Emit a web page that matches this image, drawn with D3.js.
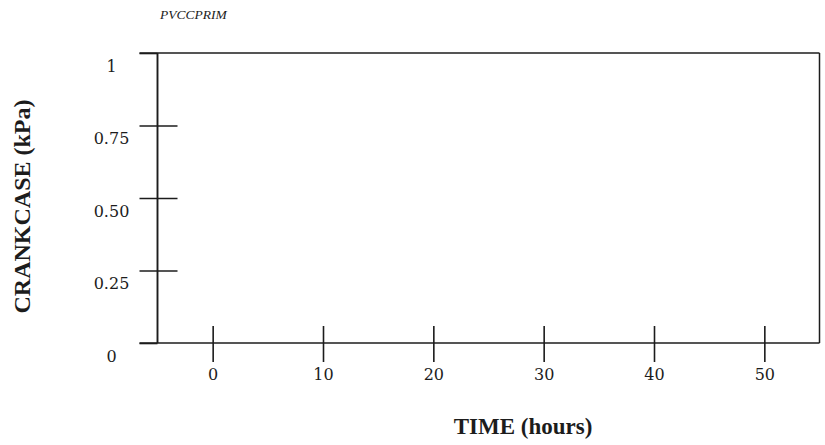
<!DOCTYPE html>
<html>
<head>
<meta charset="utf-8">
<script src="https://cdn.jsdelivr.net/npm/d3@7"></script>
<style>
  html, body { margin: 0; padding: 0; background: #fff; }
  svg { display: block; }
</style>
</head>
<body>
<svg id="chart" width="825" height="445"></svg>
<script>
// ---- data ----
const chartTitle = "PVCCPRIM";
const xTitle = "TIME (hours)";
const yTitle = "CRANKCASE (kPa)";
const xDomain = [-5, 55];
const yDomain = [0, 1];
const xTicks = [0, 10, 20, 30, 40, 50];
const xTickLabels = ["0", "10", "20", "30", "40", "50"];
const yTicks = [0, 0.25, 0.5, 0.75, 1];
const yTickLabels = ["0", "0.25", "0.50", "0.75", "1"];

// ---- layout ----
const svg = d3.select("#chart");
const plotLeft = 157.5, plotRight = 819.5, plotTop = 53, plotBottom = 343;
const ink = "#1c1c1c";

const x = d3.scaleLinear().domain(xDomain).range([plotLeft, plotRight]);
const y = d3.scaleLinear().domain(yDomain).range([plotBottom, plotTop]);

// frame
const frame = svg.append("g").attr("stroke", ink).attr("fill", "none");
frame.append("line").attr("x1", plotLeft - 18).attr("x2", plotRight).attr("y1", y(1)).attr("y2", y(1)).attr("stroke-width", 1.6);
frame.append("line").attr("x1", plotLeft - 18).attr("x2", plotRight).attr("y1", y(0)).attr("y2", y(0)).attr("stroke-width", 1.5);
frame.append("line").attr("x1", plotRight).attr("x2", plotRight).attr("y1", y(1)).attr("y2", y(0)).attr("stroke-width", 1.5);

// y axis
const yAxis = svg.append("g")
  .attr("transform", `translate(${plotLeft},0)`)
  .call(d3.axisLeft(y).tickValues(yTicks).tickSize(18).tickFormat((d, i) => yTickLabels[i]));
yAxis.select(".domain").attr("stroke", ink).attr("stroke-width", 1.9).attr("d", `M0,${y(1)}V${y(0)}`);
yAxis.selectAll(".tick line").attr("stroke", ink).attr("stroke-width", 1.6).attr("x1", -18).attr("x2", 20);
yAxis.selectAll(".tick").filter(d => d === 1 || d === 0).select("line").attr("x2", 0);
yAxis.selectAll(".tick text")
  .attr("x", -46).attr("dy", null).attr("y", 18)
  .attr("text-anchor", "middle")
  .attr("fill", ink)
  .style("font-family", "'DejaVu Serif', serif")
  .style("font-size", "16px");

// x axis
const xAxis = svg.append("g")
  .attr("transform", `translate(0,${plotBottom})`)
  .call(d3.axisBottom(x).tickValues(xTicks).tickSize(19).tickFormat((d, i) => xTickLabels[i]));
xAxis.select(".domain").remove();
xAxis.selectAll(".tick line").attr("stroke", ink).attr("stroke-width", 1.6).attr("y1", -17).attr("y2", 19);
xAxis.selectAll(".tick text")
  .attr("y", 37).attr("dy", null)
  .attr("text-anchor", "middle")
  .attr("fill", ink)
  .style("font-family", "'DejaVu Serif', serif")
  .style("font-size", "16px");

// titles
svg.append("text")
  .attr("x", 160).attr("y", 18.5)
  .attr("fill", ink)
  .style("font-family", "'Liberation Serif', serif")
  .style("font-style", "italic")
  .style("font-size", "13.5px")
  .text(chartTitle);

svg.append("text")
  .attr("x", 523).attr("y", 434)
  .attr("text-anchor", "middle")
  .attr("fill", ink)
  .style("font-family", "'Liberation Serif', serif")
  .style("font-weight", "bold")
  .style("font-size", "23px")
  .text(xTitle);

svg.append("text")
  .attr("transform", "translate(29.5,206.5) rotate(-90)")
  .attr("text-anchor", "middle")
  .attr("fill", ink)
  .style("font-family", "'Liberation Serif', serif")
  .style("font-weight", "bold")
  .style("font-size", "24px")
  .text(yTitle);
</script>
</body>
</html>
